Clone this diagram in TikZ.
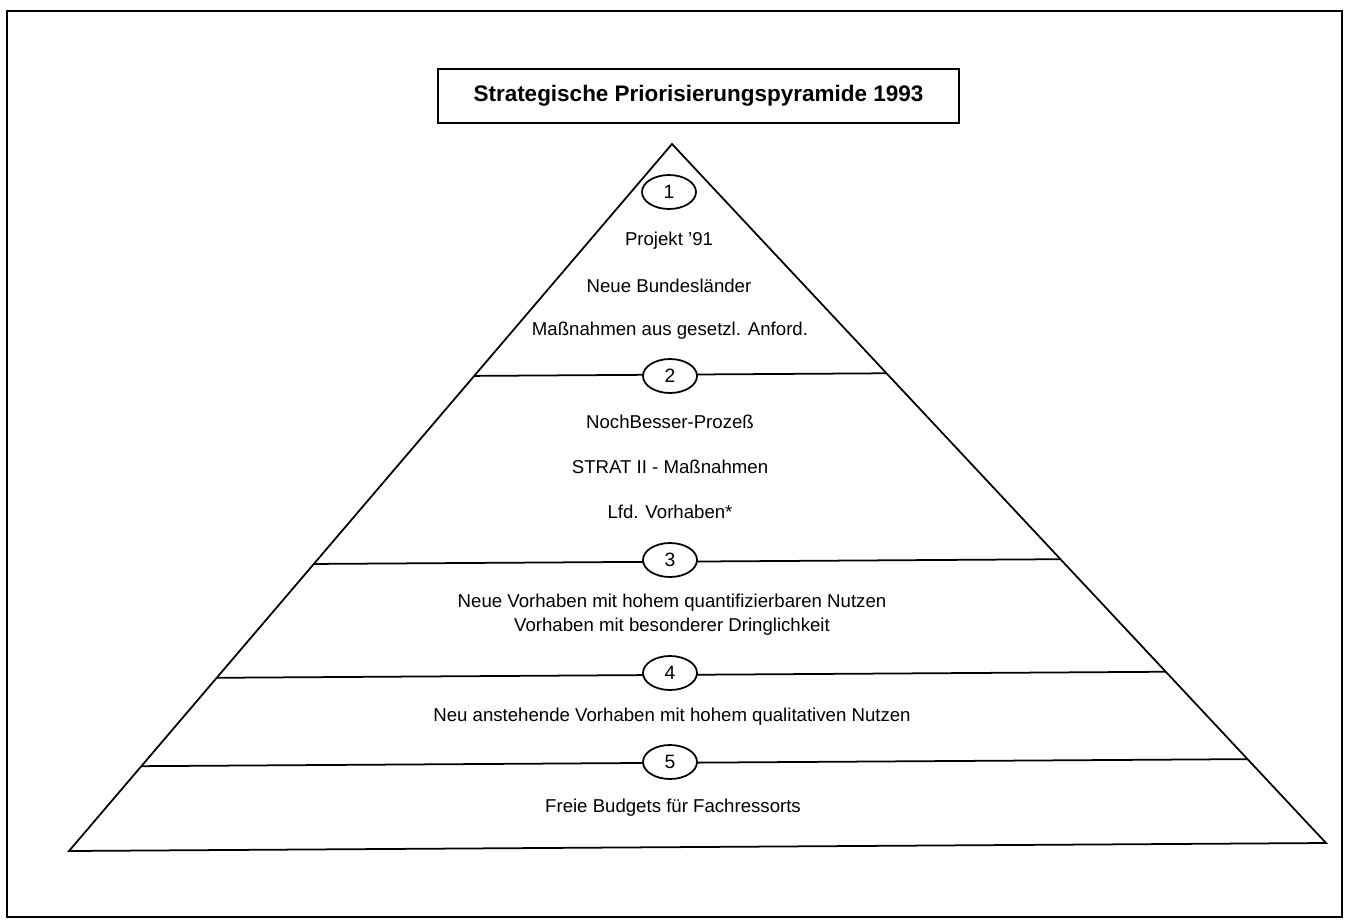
\documentclass[tikz,border=0pt]{standalone}
\usepackage{fontspec}
\setmainfont{Liberation Sans}
\usetikzlibrary{shapes.geometric, positioning, calc}
\tikzset{
    frame/.style={draw, line width=1.6pt},
    titlebox/.style={rectangle, draw, line width=1pt, minimum width=10.42cm, minimum height=1.08cm, font=\bfseries\fontsize{12.8}{15}\selectfont},
    num/.style={ellipse, draw, fill=white, line width=1pt, minimum width=1.08cm, minimum height=0.68cm, inner sep=0pt, font=\fontsize{11}{13}\selectfont},
    txt/.style={font=\fontsize{10.6}{13.5}\selectfont, align=center},
    edge/.style={line width=1pt},
}

\begin{document}
\begin{tikzpicture}[x=0.02cm, y=-0.02cm]
\useasboundingbox (0,0) rectangle (1345,920);

% Frame
\draw[frame] (7,11) rectangle (1342,917);

% Title
\node[titlebox] (title) at (698.5,96) {Strategische Priorisierungspyramide 1993};

% Pyramid
\coordinate (top) at (672,144);
\coordinate (bl) at (69,851);
\coordinate (br) at (1326,843);
\draw[edge] (top) -- (bl) -- (br) -- cycle;

% Levels
\foreach \t/\n in {0.328/2, 0.594/3, 0.755/4, 0.88/5} {
    \coordinate (l\n) at ($(top)!\t!(bl)$);
    \coordinate (r\n) at ($(top)!\t!(br)$);
    \draw[edge] (l\n) -- (r\n);
}

% Numbers
\node[num] (n1) at (669,192) {1};
\foreach \n/\y in {2/376, 3/560, 4/673, 5/762}
    \node[num] (n\n) at (670,\y) {\n};

% Level 1
\node[txt] (p1) at (669,241) {Projekt '91};
\node[txt] (p2) at (669,286) {Neue Bundesländer};
\node[txt] (p3) at (670,331) {Maßnahmen aus gesetzl. Anford.};

% Level 2
\node[txt] (q1) at (670,422) {NochBesser-Prozeß};
\node[txt] (q2) at (670,467) {STRAT II - Maßnahmen};
\node[txt] (q3) at (670,512) {Lfd. Vorhaben*};

% Level 3
\node[txt] (s1) at (672,615) {Neue Vorhaben mit hohem quantifizierbaren Nutzen\\Vorhaben mit besonderer Dringlichkeit};

% Level 4
\node[txt] (u1) at (672,717) {Neu anstehende Vorhaben mit hohem qualitativen Nutzen};

% Level 5
\node[txt] (v1) at (673,808) {Freie Budgets für Fachressorts};

\end{tikzpicture}
\end{document}
